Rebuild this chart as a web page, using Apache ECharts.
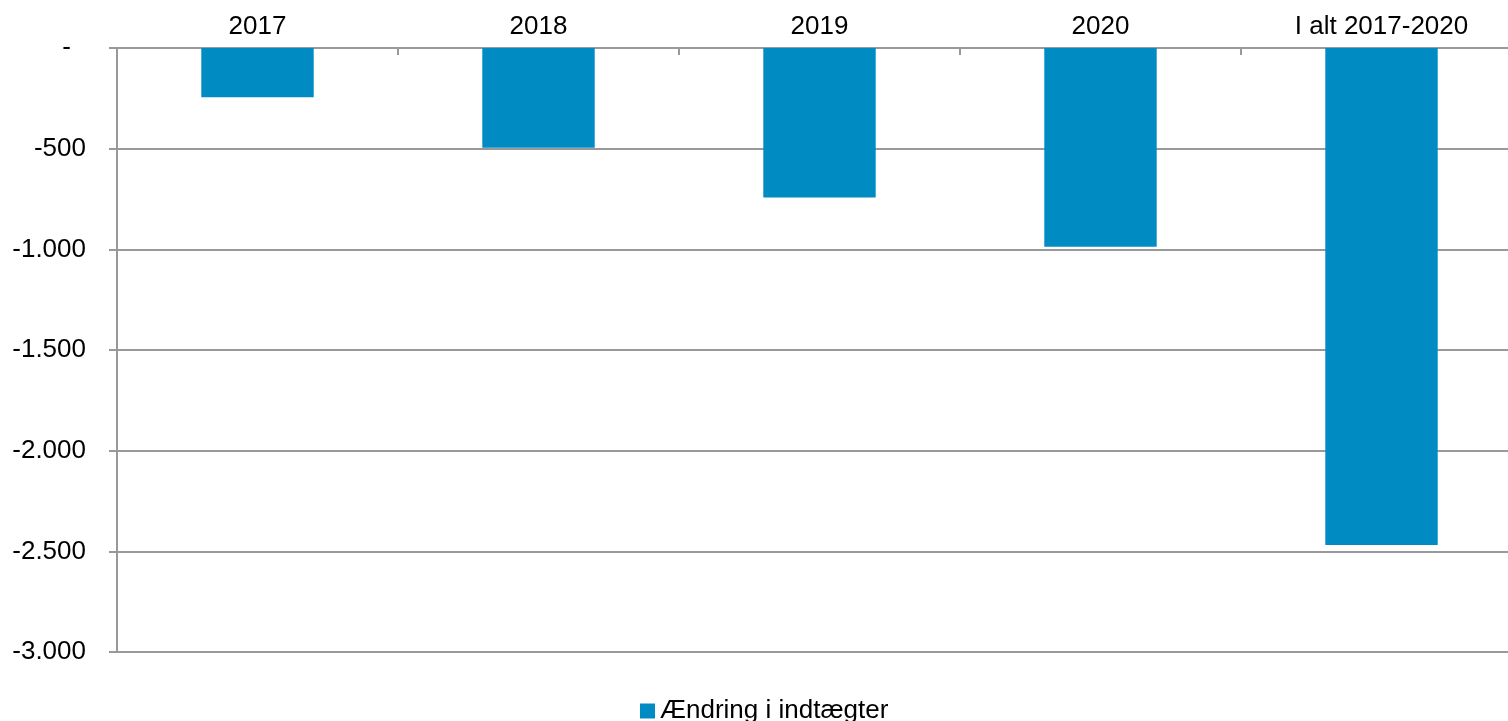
<!DOCTYPE html>
<html>
<head>
<meta charset="utf-8">
<script src="https://cdn.jsdelivr.net/npm/echarts@6/dist/echarts.min.js"></script>
<style>
html,body{margin:0;padding:0;background:#fff;}
#chart{width:1508px;height:721px;}
</style>
</head>
<body>
<div id="chart"></div>
<script>
var categories = ['2017', '2018', '2019', '2020', 'I alt 2017-2020'];
var values = [-245, -495, -742, -987, -2468];
var seriesName = 'Ændring i indtægter';
var yMin = -3000, yMax = 0, yStep = 500;

function fmt(v) {
  if (v === 0) return '{d|-}';
  var s = Math.abs(v).toString().replace(/\B(?=(\d{3})+(?!\d))/g, '.');
  return (v < 0 ? '-' : '') + s;
}

var chart = echarts.init(document.getElementById('chart'), null, {renderer: 'canvas'});
var font = 'Liberation Sans, Arial, sans-serif';
chart.setOption({
  animation: false,
  backgroundColor: '#ffffff',
  textStyle: {fontFamily: font},
  grid: {left: 117, width: 1405, top: 48, bottom: 69, containLabel: false, outerBoundsMode: 'none'},
  legend: {
    data: [seriesName],
    left: 635,
    top: 693,
    itemWidth: 15,
    itemHeight: 15,
    icon: 'rect',
    textStyle: {fontSize: 26, color: '#000', fontFamily: font}
  },
  xAxis: {
    type: 'category',
    position: 'top',
    data: categories,
    axisLine: {show: true, onZero: false, lineStyle: {color: '#999', width: 2}},
    axisTick: {show: true, inside: true, length: 7, lineStyle: {color: '#999', width: 2}},
    axisLabel: {fontSize: 26, color: '#000', margin: 8, fontFamily: font},
    splitLine: {show: false}
  },
  yAxis: {
    type: 'value',
    min: yMin,
    max: yMax,
    interval: yStep,
    axisLine: {show: true, lineStyle: {color: '#999', width: 2}},
    axisTick: {show: true, length: 8, lineStyle: {color: '#999', width: 2}},
    axisLabel: {
      fontSize: 26, color: '#000', margin: 31, formatter: fmt, fontFamily: font,
      rich: {d: {fontSize: 26, color: '#000', fontFamily: font, padding: [0, 15, 0, 0]}}
    },
    splitLine: {show: true, lineStyle: {color: '#999', width: 2}}
  },
  series: [{
    name: seriesName,
    type: 'bar',
    data: values,
    barWidth: '40%',
    itemStyle: {color: '#008CC2'}
  }]
});
</script>
</body>
</html>
